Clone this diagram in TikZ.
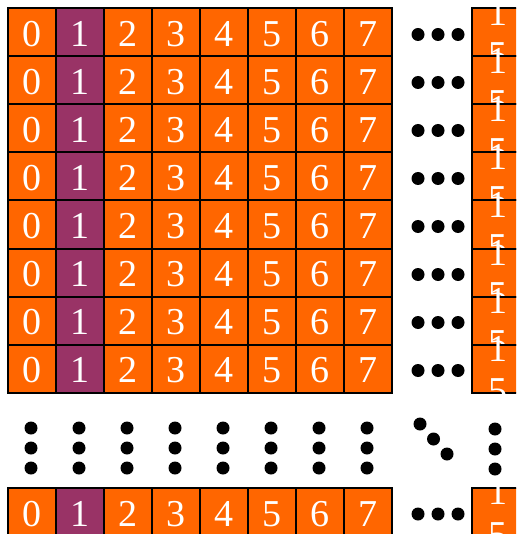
\documentclass[tikz,border=0pt]{standalone}
\usepackage{fontspec}
\setmainfont{Liberation Serif}
\usepackage{tikz}
\usetikzlibrary{
    positioning,
    calc
}
\definecolor{cellorange}{RGB}{255,102,0}
\definecolor{cellpurple}{RGB}{153,51,102}

\begin{document}
\begin{tikzpicture}[
        x=1pt, y=-1pt,
        cell/.style={
            draw=black,
            line width=2pt,
            fill=cellorange,
            text=white,
            minimum size=48pt,
            inner sep=0pt,
            text height=28pt,
            text depth=0pt,
            anchor=north west,
            font=\fontsize{38}{42.5}\selectfont
        },
        pickcell/.style={
            cell,
            fill=cellpurple
        },
        wraptext/.style={
            text=white,
            align=center,
            inner sep=0pt,
            font=\fontsize{38}{42.5}\selectfont
        },
        bigdot/.style={
            fill=black
        }
    ]

    \clip (0,0) rectangle (516,534);

    % rows 0..7 and the last row
    \foreach \r/\y in {0/7.5,1/55.5,2/103.5,3/151.5,4/199.5,5/247.5,6/295.5,7/343.5,8/487} {
        \foreach \c/\s in {0/cell,1/pickcell,2/cell,3/cell,4/cell,5/cell,6/cell,7/cell} {
            \node[\s] (c\r-\c) at ({7+48*\c},\y) {\c};
        }
        \node[cell] (c\r-15) at (471,\y) {};
        \node[wraptext] (t\r-15) at ($(c\r-15.center)+(2,1.75)$) {1\\5};
        \foreach \x in {418,438,458} {
            \fill[bigdot] (\x,{\y+27}) circle (6.5pt);
        }
    }

    % vertical dots
    \foreach \c in {0,...,7} {
        \foreach \y in {428,448,468} {
            \fill[bigdot] ({31+48*\c},\y) circle (6.5pt);
        }
    }
    \foreach \y in {429,449,469} {
        \fill[bigdot] (495,\y) circle (6.5pt);
    }

    % diagonal dots
    \fill[bigdot] (420,424) circle (6.5pt);
    \fill[bigdot] (433.5,439) circle (6.5pt);
    \fill[bigdot] (447,454) circle (6.5pt);

\end{tikzpicture}
\end{document}
